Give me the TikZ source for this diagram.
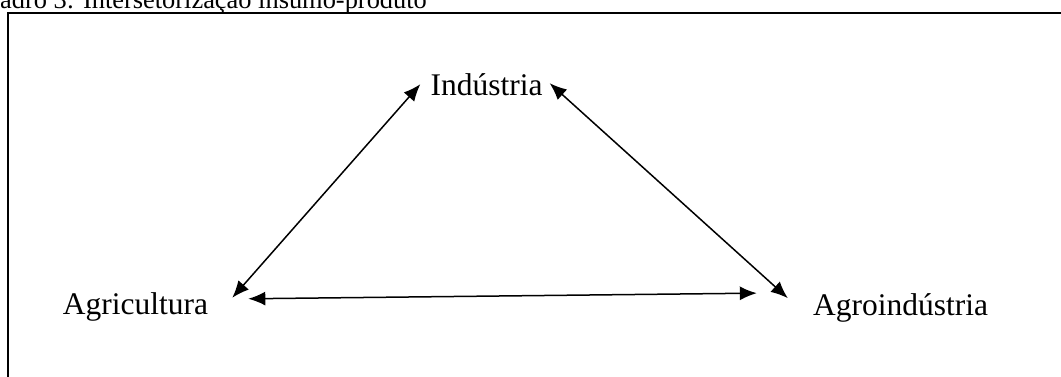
\documentclass[tikz,border=0pt]{standalone}
\usepackage{fontspec}
\setmainfont{Liberation Serif}
\usetikzlibrary{arrows.meta}

\tikzset{
  sector/.style={inner sep=0pt, anchor=base, font=\fontsize{31.5}{36}\selectfont},
  flow/.style={{Latex[length=17pt,width=14pt]}-{Latex[length=17pt,width=14pt]}, line width=1.5pt},
}

\begin{document}
\begin{tikzpicture}[x=1pt,y=1pt]
    \useasboundingbox (0,0) rectangle (1061,376);
    \clip (0,0) rectangle (1061,376);

    % Caption (cut by the page)
    \node[anchor=base west, inner sep=0pt, font=\fontsize{26.4}{30}\selectfont] (caption) at (0,367) {adro 3: Intersetorização insumo-produto};

    % Frame
    \draw[line width=1.6pt] (8,-2) -- (8,363) -- (1063,363);

    % Sectors
    \node[sector] (indu) at (486.5,281) {Indústria};
    \node[sector] (agri) at (135.5,62) {Agricultura};
    \node[sector] (agro) at (900.5,61) {Agroindústria};

    % Flows between sectors
    \draw[flow] ([shift={(24,8.7)}]agri.east) -- ([shift={(-10,0)}]indu.west);
    \draw[flow] ([shift={(7,1)}]indu.east) -- ([shift={(-25,9.3)}]agro.west);
    \draw[flow] ([shift={(40,7.7)}]agri.east) -- ([shift={(-56,14.3)}]agro.west);
\end{tikzpicture}
\end{document}
